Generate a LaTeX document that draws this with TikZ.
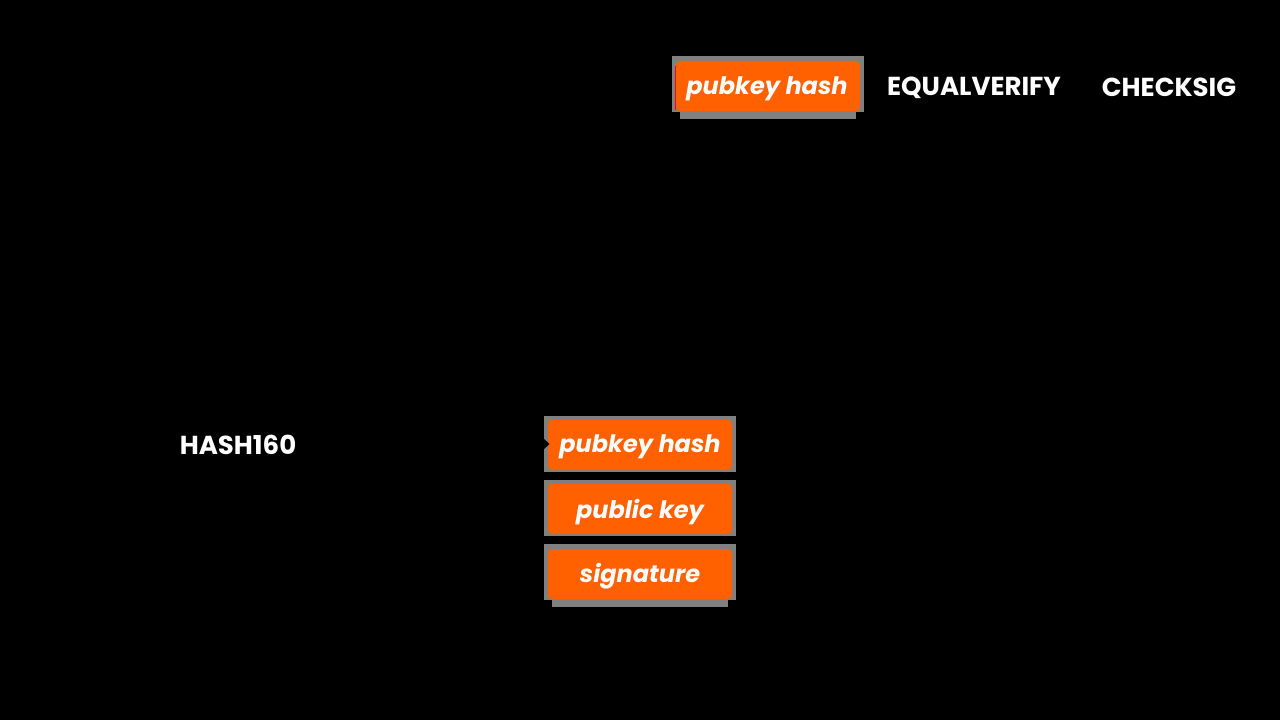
\documentclass[tikz,border=0pt]{standalone}
\usepackage{fontspec}
\setmainfont{Poppins}[BoldFont={* Bold},BoldItalicFont={* Bold Italic}]
\definecolor{btcorange}{HTML}{FF6000}
\definecolor{framegray}{HTML}{808080}
\begin{document}
\begin{tikzpicture}[x=0.75pt,y=-0.75pt,
  oplabel/.style={text=white,font=\bfseries\fontsize{19.5}{22}\selectfont,inner sep=0pt,yshift=-1pt},
  itemlabel/.style={text=white,font=\bfseries\itshape\fontsize{18}{21}\selectfont,inner sep=0pt,yshift=-2pt},
  frame/.style={fill=framegray},
  card/.style={fill=btcorange,rounded corners=3pt}]
\fill[black] (0,0) rectangle (1280,720);
\useasboundingbox (0,0) rectangle (1280,720);
% top stack item
\fill[frame] (672,56) rectangle (864,112);
\fill[frame] (680,110) rectangle (856,119);
\fill[card] (676,61) rectangle (860,111);
\draw[red,line width=0.9pt] (675.5,66) -- (675.5,110);
\node[itemlabel] (top) at (767,86) {pubkey hash};
\node[oplabel] (eq) at (974,86) {EQUALVERIFY};
\node[oplabel] (cs) at (1169,86) {CHECKSIG};
\node[oplabel] (h160) at (238,444) {HASH160};
% bottom stack
\fill[frame] (544,416) rectangle (736,472);
\fill[card] (548,420) rectangle (732,470);
\fill[black] (544,439) -- (549.5,444) -- (544,449) -- cycle;
\node[itemlabel] (pkh) at (640,444) {pubkey hash};
\fill[frame] (544,480) rectangle (736,536);
\fill[card] (548,484) rectangle (732,534);
\node[itemlabel] (pk) at (640,509) {public key};
\fill[frame] (544,544) rectangle (736,600);
\fill[frame] (552,598) rectangle (728,607);
\fill[card] (548,549) rectangle (732,599);
\node[itemlabel] (sig) at (640,574) {signature};
\end{tikzpicture}
\end{document}
